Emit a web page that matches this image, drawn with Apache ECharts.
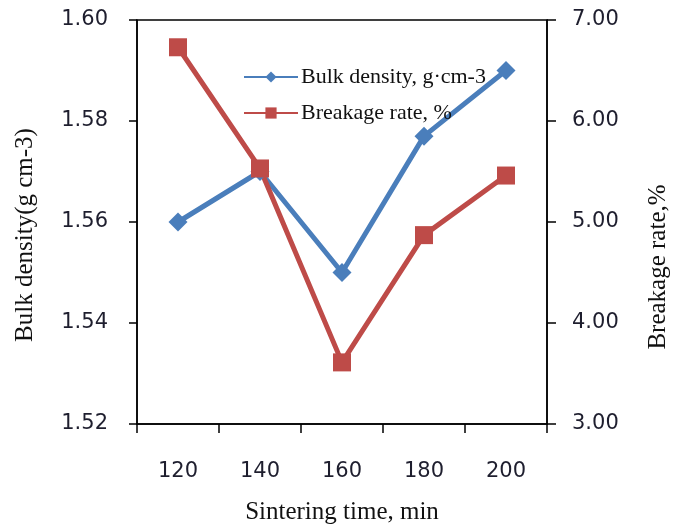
<!DOCTYPE html>
<html><head><meta charset="utf-8">
<script src="https://cdn.jsdelivr.net/npm/echarts@6/dist/echarts.min.js"></script>
<style>html,body{margin:0;padding:0;background:#fff;overflow:hidden}#c{width:679px;height:530px}</style>
</head><body><div id="c"></div>
<script>
const categories = ['120','140','160','180','200'];
const bulkDensity = [1.560, 1.570, 1.550, 1.577, 1.590];
const breakageRate = [6.73, 5.53, 3.61, 4.87, 5.46];
const leftTicks = {min:1.52, max:1.60, interval:0.02};
const rightTicks = {min:3, max:7, interval:1};

const chart = echarts.init(document.getElementById('c'), null, {renderer:'canvas'});
const tickFont = {fontFamily:'DejaVu Sans', fontSize:21, color:'#1e1e2e'};
const titleFont = {fontFamily:'Liberation Serif', fontSize:25, color:'#111'};
chart.setOption({
  animation:false,
  grid:{left:137, right:126, top:20, bottom:102, show:true, borderColor:'#000', borderWidth:1.5},
  legend:{
    orient:'vertical', left:238, top:61, itemWidth:54, itemHeight:14, itemGap:14,
    textStyle:{fontFamily:'Liberation Serif', fontSize:22, color:'#111', padding:[0,0,0,-2]},
    data:['Bulk density, g·cm-3','Breakage rate, %']
  },
  xAxis:{
    type:'category', data:categories, boundaryGap:true,
    name:'Sintering time, min', nameLocation:'middle', nameGap:76,
    nameTextStyle:titleFont,
    axisLine:{lineStyle:{color:'#000', width:1.5}},
    axisTick:{show:true, length:9, lineStyle:{color:'#000', width:1.5}},
    axisLabel:Object.assign({margin:37}, tickFont),
    splitLine:{show:false}
  },
  yAxis:[{
    type:'value', min:leftTicks.min, max:leftTicks.max, interval:leftTicks.interval,
    name:'Bulk density(g cm-3)', nameLocation:'middle', nameGap:99, nameRotate:90,
    nameTextStyle:Object.assign({padding:[0,26,0,0]}, titleFont),
    axisLine:{show:true, lineStyle:{color:'#000', width:1.5}},
    axisTick:{show:true, length:8, lineStyle:{color:'#000', width:1.5}},
    axisLabel:Object.assign({margin:29, formatter:v=>v.toFixed(2)}, tickFont),
    splitLine:{show:false}
  },{
    type:'value', min:rightTicks.min, max:rightTicks.max, interval:rightTicks.interval, position:'right',
    name:'Breakage rate,%', nameLocation:'middle', nameGap:99, nameRotate:90,
    nameTextStyle:Object.assign({padding:[0,90,0,0]}, titleFont),
    axisLine:{show:true, lineStyle:{color:'#000', width:1.5}},
    axisTick:{show:true, length:9, lineStyle:{color:'#000', width:1.5}},
    axisLabel:Object.assign({margin:25, formatter:v=>v.toFixed(2)}, tickFont),
    splitLine:{show:false}
  }],
  series:[{
    name:'Bulk density, g·cm-3', type:'line', yAxisIndex:0, data:bulkDensity,
    symbol:'diamond', symbolSize:19,
    lineStyle:{color:'#4a7ebb', width:5}, itemStyle:{color:'#4a7ebb'}
  },{
    name:'Breakage rate, %', type:'line', yAxisIndex:1, data:breakageRate,
    symbol:'rect', symbolSize:18,
    lineStyle:{color:'#be4b48', width:5}, itemStyle:{color:'#be4b48'}
  }]
});
</script></body></html>
